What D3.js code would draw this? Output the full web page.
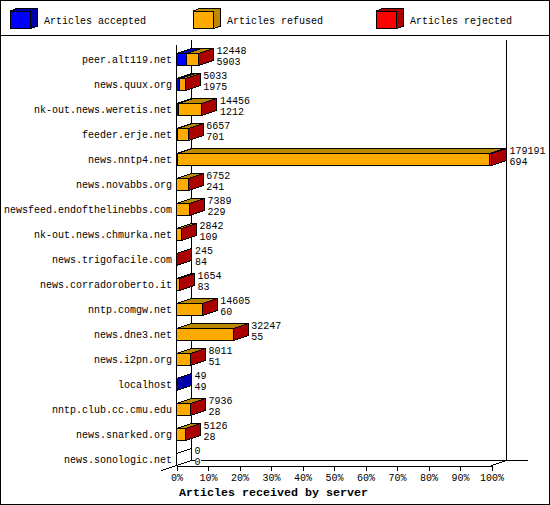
<!DOCTYPE html>
<html><head><meta charset="utf-8">
<script src="https://cdn.jsdelivr.net/npm/d3@7"></script>
<style>
html,body{margin:0;padding:0;background:#fff}
svg{display:block}
text{font-family:"Liberation Mono","DejaVu Sans Mono",monospace;font-size:10px;fill:#000}
.title{font-weight:bold;font-size:11.67px}
</style></head><body>
<script>
const categories=["peer.alt119.net","news.quux.org","nk-out.news.weretis.net","feeder.erje.net","news.nntp4.net","news.novabbs.org","newsfeed.endofthelinebbs.com","nk-out.news.chmurka.net","news.trigofacile.com","news.corradoroberto.it","nntp.comgw.net","news.dne3.net","news.i2pn.org","localhost","nntp.club.cc.cmu.edu","news.snarked.org","news.sonologic.net"];
const totals=[12448,5033,14456,6657,179191,6752,7389,2842,245,1654,14605,32247,8011,49,7936,5126,0];
const accepted=[5903,1975,1212,701,694,241,229,109,84,83,60,55,51,49,28,28,0];
const refused=[6500,3030,13200,5930,177500,6490,7140,2700,150,1560,14530,32180,7950,0,7900,5090,0];
const rejected=[45,28,44,26,997,21,20,33,11,11,15,12,10,0,8,8,0];
const seriesNames=["Articles accepted","Articles refused","Articles rejected"];
const seriesColors=["#0000ff","#ffaa00","#ff0000"];
const seriesDark=["#0000aa","#bb8800","#aa0000"];
const percentTicks=[0,10,20,30,40,50,60,70,80,90,100];

const W=550,H=505,DX=15,DY=-5,HALF=6;
const svg=d3.select("body").append("svg").attr("width",W).attr("height",H).attr("shape-rendering","crispEdges");
svg.append("rect").attr("x",.5).attr("y",.5).attr("width",W-1).attr("height",H-1).attr("fill","#fff").attr("stroke","#000");
svg.append("line").attr("x1",0).attr("x2",W).attr("y1",35.5).attr("y2",35.5).attr("stroke","#000");

// legend
const lg=svg.selectAll("g.lg").data(seriesNames).join("g").attr("class","lg").attr("transform",(d,i)=>`translate(${10.5+183*i},11)`);
lg.append("path").attr("d","M0 0L7 -3L27 -3L27 15L20 17.5L20 0Z").attr("fill",(d,i)=>seriesDark[i]).attr("stroke","#000");
lg.append("rect").attr("width",20).attr("height",17.5).attr("fill",(d,i)=>seriesColors[i]).attr("stroke","#000");
lg.append("text").attr("x",33.5).attr("y",12.5).text(d=>d);

const x=d3.scaleLinear().domain([0,d3.max(totals)]).range([176.5,491.5]);
const xp=d3.scaleLinear().domain([0,100]).range([176.5,491.5]);
const y=d3.scalePoint().domain(categories).range([59,459]);

// walls
const wall=[[191.5,40,191.5,460.5],[506.5,40,506.5,460.5],[176.5,45,176.5,465.5],[191.5,460.5,528,460.5],[161.5,470.5,191.5,460.5],[491.5,465.5,506.5,460.5]];
svg.selectAll("line.wall").data(wall).join("line").attr("class","wall")
 .attr("x1",d=>d[0]).attr("y1",d=>d[1]).attr("x2",d=>d[2]).attr("y2",d=>d[3]).attr("stroke","#000");

// axis
const ax=svg.append("g").attr("transform","translate(0,465.5)").call(
  d3.axisBottom(xp).tickValues(percentTicks).tickSize(5).tickPadding(3).tickFormat(d=>d+"%"));
ax.selectAll("text").attr("fill","#000").style("font-size","10px").style("font-family",'"Liberation Mono",monospace');
ax.selectAll("line,path").attr("stroke","#000");

// bars
categories.forEach((c,i)=>{
  const cy=y(c)+.5, top=cy-HALF, bot=cy+HALF;
  const g=svg.append("g");
  let cum=0; const segs=[];
  [accepted[i],refused[i],rejected[i]].forEach((v,k)=>{
    if(v>0){segs.push({k,a:cum,b:cum+v});cum+=v;}
  });
  if(segs.length==0){
    const x0=x(0);
    g.append("path").attr("d",`M${x0} ${top}L${x0+DX} ${top+DY}`).attr("stroke","#000").attr("fill","none");
  }
  segs.forEach(s=>{
    const a=x(s.a),b=x(s.b);
    g.append("path").attr("d",`M${a} ${top}L${a+DX} ${top+DY}L${b+DX} ${top+DY}L${b} ${top}Z`)
      .attr("fill",seriesDark[s.k]).attr("stroke","#000");
    g.append("rect").attr("x",a).attr("y",top).attr("width",b-a).attr("height",bot-top).attr("fill",seriesColors[s.k]).attr("stroke","#000");
  });
  if(segs.length){
    const l=segs[segs.length-1],b=x(l.b);
    g.append("path").attr("d",`M${b} ${top}L${b+DX} ${top+DY}L${b+DX} ${bot+DY}L${b} ${bot}Z`)
      .attr("fill",seriesDark[l.k]).attr("stroke","#000");
  }
  // category label
  svg.append("text").attr("x",172).attr("y",y(c)+3.5).attr("text-anchor","end").text(c);
  // value labels
  const lx=x(totals[i])+DX+3;
  [[totals[i],-9],[accepted[i],2]].forEach(([v,o])=>{
    const s=String(v);
    svg.append("rect").attr("x",lx).attr("y",y(c)+o-4).attr("width",s.length*6).attr("height",9).attr("fill","#fff");
    svg.append("text").attr("x",lx).attr("y",y(c)+o+3.5).text(s);
  });
});
svg.append("text").attr("class","title").attr("x",273.5).attr("y",496).attr("text-anchor","middle").text("Articles received by server");
</script></body></html>
